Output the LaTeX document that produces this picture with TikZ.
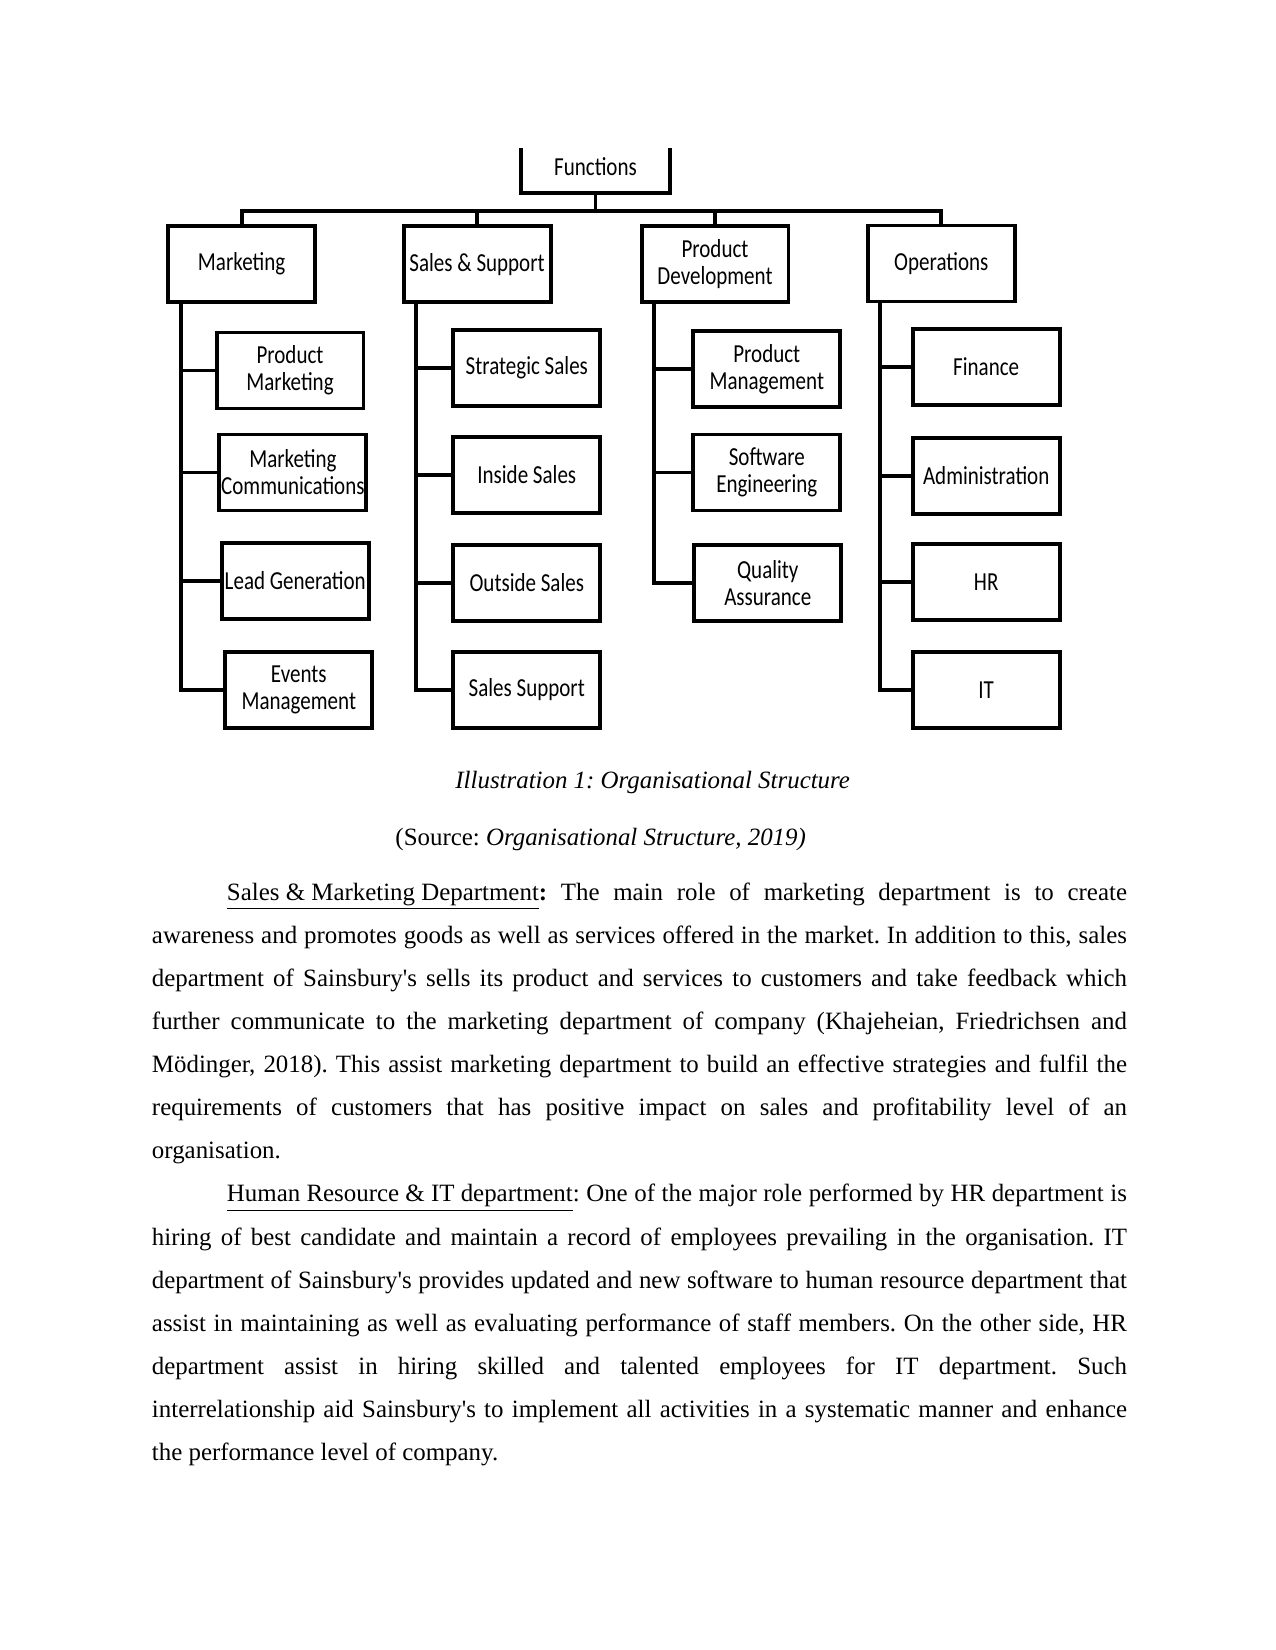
\documentclass[tikz,border=0pt]{standalone}
\usepackage{fontspec}
\setmainfont{Liberation Serif}
\newfontfamily\boxfont[FakeStretch=0.81]{Carlito}
\newcommand{\aps}{\textquotesingle}
\usetikzlibrary{calc}

\begin{document}
\begin{tikzpicture}[x=0.4818pt, y=-0.4818pt, line width=1.9pt,
	unit/.style={draw, minimum width=70.8pt, minimum height=36.6pt, inner sep=0pt, align=center, font=\boxfont\fontsize{12.5}{13}\selectfont},
	bodytext/.style={anchor=base west, inner sep=0pt, text width=6.5in, align=justify, font=\fontsize{12}{20.78}\selectfont}]
	\useasboundingbox (0,0) rectangle (1275,1650);

	\node[unit, draw=none, minimum width=70.3pt, minimum height=19.6pt] (fn) at (595.5,170.4) {\raisebox{3.6pt}{Functions}};
	\draw (fn.north west) -- (fn.south west) -- (fn.south east) -- (fn.north east);

	\node[unit] (mkt) at (241.6,264.2) {Marketing};
	\node[unit] (sal) at (477.1,264.2) {Sales \& Support};
	\node[unit] (pdv) at (715,264.2) {Product\\Development};
	\node[unit] (ops) at (941.3,263.5) {Operations};

	\node[unit] (pmk) at (290,370.5) {Product\\Marketing};
	\node[unit] (mcm) at (292.9,472.5) {Marketing\\Communications};
	\node[unit] (led) at (295.2,580.8) {Lead Generation};
	\node[unit] (evm) at (298.8,690) {Events\\Management};

	\node[unit] (sts) at (526.8,367.8) {Strategic Sales};
	\node[unit] (ins) at (526.8,474.7) {Inside Sales};
	\node[unit] (ots) at (526.8,582.8) {Outside Sales};
	\node[unit] (ssp) at (526.8,690) {Sales Support};

	\node[unit] (pmg) at (766.8,369) {Product\\Management};
	\node[unit] (swe) at (766.8,472.5) {Software\\Engineering};
	\node[unit] (qas) at (767.8,582.8) {Quality\\Assurance};

	\node[unit] (fin) at (986.2,367) {Finance};
	\node[unit] (adm) at (986.2,475.8) {Administration};
	\node[unit] (hrs) at (986.2,582.2) {HR};
	\node[unit] (its) at (986.2,690) {IT};

	\coordinate (bus) at (595.5,210.7);
	\draw (fn.south) -- (bus);
	\draw (mkt.north) |- (bus) -| (ops.north);
	\foreach \p in {sal,pdv} \draw (\p.north) -- (\p.north |- bus);

	\foreach \p in {mkt,sal,pdv,ops} \coordinate (\p-t) at ($(\p.south west)+(14.5,0)$);
	\foreach \c in {pmk,mcm,led,evm} \draw (mkt-t) |- (\c.west);
	\foreach \c in {sts,ins,ots,ssp} \draw (sal-t) |- (\c.west);
	\foreach \c in {pmg,swe,qas} \draw (pdv-t) |- (\c.west);
	\foreach \c in {fin,adm,hrs,its} \draw (ops-t) |- (\c.west);

	\node[font=\fontsize{12}{14}\selectfont\itshape\frenchspacing] (cap) at (652.7,782.8) {Illustration 1: Organisational Structure};
	\node[font=\fontsize{12}{14}\selectfont\frenchspacing] (src) at (600.7,839.5) {(Source: \textit{Organisational Structure, 2019)}};

	\node[bodytext] (txt) at (150,900) {\tolerance=9999\frenchspacing
		\hspace*{0.5in}\underline{Sales \& Marketing Department}\textbf{:} The main role of marketing department is to create\linebreak
		awareness and promotes goods as well as services offered in the market. In addition to this, sales\linebreak
		department of Sainsbury\aps s sells its product and services to customers and take feedback which\linebreak
		further communicate to the marketing department of company (Khajeheian, Friedrichsen and\linebreak
		Mödinger, 2018). This assist marketing department to build an effective strategies and fulfil the\linebreak
		requirements of customers that has positive impact on sales and profitability level of an\linebreak
		organisation.\par
		\hspace*{0.5in}\underline{Human Resource \& IT department}: One of the major role performed by HR department is\linebreak
		hiring of best candidate and maintain a record of employees prevailing in the organisation. IT\linebreak
		department of Sainsbury\aps s provides updated and new software to human resource department that\linebreak
		assist in maintaining as well as evaluating performance of staff members. On the other side, HR\linebreak
		department assist in hiring skilled and talented employees for IT department. Such\linebreak
		interrelationship aid Sainsbury\aps s to implement all activities in a systematic manner and enhance\linebreak
		the performance level of company.\par};
\end{tikzpicture}
\end{document}
